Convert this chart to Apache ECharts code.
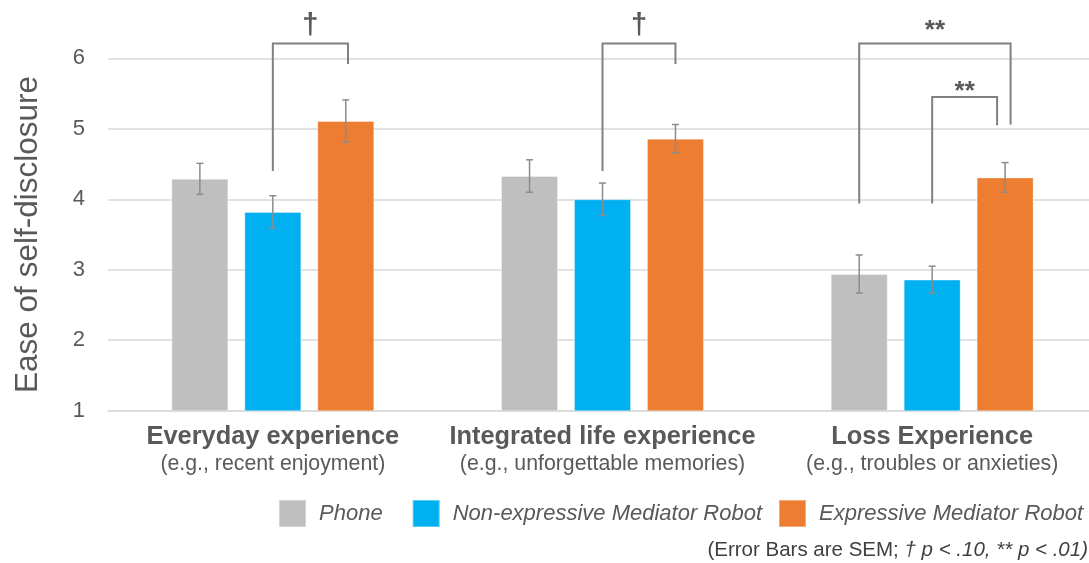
<!DOCTYPE html>
<html>
<head>
<meta charset="utf-8">
<script src="https://cdn.jsdelivr.net/npm/echarts@6/dist/echarts.min.js"></script>
<style>
  html, body { margin: 0; padding: 0; background: #ffffff; }
  #chart { width: 1089px; height: 563px; }
</style>
</head>
<body>
<div id="chart"></div>
<script>
// Conversation themes
const categories = ['Everyday experience', 'Integrated life experience', 'Loss Experience'];
const subtitles = ['(e.g., recent enjoyment)', '(e.g., unforgettable memories)', '(e.g., troubles or anxieties)'];
const seriesNames = ['Phone', 'Non-expressive Mediator Robot', 'Expressive Mediator Robot'];

// Mean ease of self-disclosure per condition
const phone = [4.29, 4.33, 2.94];
const nonExpressive = [3.82, 4.00, 2.86];
const expressive = [5.11, 4.86, 4.31];

// Standard errors of the mean
const phoneSem = [0.22, 0.23, 0.27];
const nonExpressiveSem = [0.23, 0.23, 0.19];
const expressiveSem = [0.30, 0.20, 0.21];

// Pairwise comparisons: theme, bar slots joined, bracket heights, marker and its height
const compCategory = [0, 1, 2, 2];
const compFrom = [1, 1, 0, 1];
const compTo = [2.03, 2, 2.075, 1.89];
const compTop = [6.21, 6.21, 6.21, 5.45];
const compLeftEnd = [4.40, 4.40, 3.94, 3.94];
const compRightEnd = [5.92, 5.92, 5.06, 5.05];
const compLabel = ['†', '†', '**', '**'];
const compLabelY = [6.49, 6.49, 6.48, 5.61];

const FONT = '"Liberation Sans", Arial, Helvetica, sans-serif';
const TEXT = '#595959';
const GRID = '#d9d9d9';
const ERR = '#8c8c8c';
const BRACKET = '#808080';
const COLORS = ['#bfbfbf', '#00b0f0', '#ed7d31'];
const BAR_W = 57;
const BAR_GAP = 0.28;
const SLOT = BAR_W * (1 + BAR_GAP);
const LEGEND_LEFT = [278, 411.7, 778];

const chart = echarts.init(document.getElementById('chart'));

function errorSeries(values, sems, slot) {
  return {
    type: 'custom',
    z: 5,
    silent: true,
    encode: { x: 0, y: [1, 2] },
    data: values.map((v, i) => [i, v - sems[i], v + sems[i]]),
    renderItem: function (params, api) {
      const c = api.value(0);
      const lo = api.coord([c, api.value(1)]);
      const hi = api.coord([c, api.value(2)]);
      const x = lo[0] + (slot - 1) * SLOT;
      const cap = 3.5;
      const st = { stroke: ERR, lineWidth: 1.5 };
      return {
        type: 'group',
        children: [
          { type: 'line', shape: { x1: x, y1: lo[1], x2: x, y2: hi[1] }, style: st },
          { type: 'line', shape: { x1: x - cap, y1: lo[1], x2: x + cap, y2: lo[1] }, style: st },
          { type: 'line', shape: { x1: x - cap, y1: hi[1], x2: x + cap, y2: hi[1] }, style: st }
        ]
      };
    }
  };
}

const bracketSeries = {
  type: 'custom',
  z: 6,
  silent: true,
  clip: false,
  encode: { x: 0, y: 1 },
  data: compCategory.map((c, i) => [c, compTop[i]]),
  renderItem: function (params, api) {
    const i = params.dataIndex;
    const c = compCategory[i];
    const top = api.coord([c, compTop[i]]);
    const leftEnd = api.coord([c, compLeftEnd[i]]);
    const rightEnd = api.coord([c, compRightEnd[i]]);
    const labelPt = api.coord([c, compLabelY[i]]);
    const x1 = top[0] + (compFrom[i] - 1) * SLOT;
    const x2 = top[0] + (compTo[i] - 1) * SLOT;
    const st = { stroke: BRACKET, lineWidth: 2, fill: null };
    const isDagger = compLabel[i] === '†';
    return {
      type: 'group',
      children: [
        {
          type: 'polyline',
          shape: { points: [[x1, leftEnd[1]], [x1, top[1]], [x2, top[1]], [x2, rightEnd[1]]] },
          style: st
        },
        {
          type: 'text',
          x: (x1 + x2) / 2,
          // asterisks sit high in the em box, daggers slightly high
          y: labelPt[1] + (isDagger ? 2.5 : 6),
          style: {
            text: compLabel[i],
            fill: TEXT,
            font: isDagger ? 'bold 29px ' + FONT : 'bold 26px ' + FONT,
            align: 'center',
            verticalAlign: 'middle'
          }
        }
      ]
    };
  }
};

const barData = [phone, nonExpressive, expressive];

chart.setOption({
  animation: false,
  backgroundColor: '#ffffff',
  textStyle: { fontFamily: FONT },
  grid: { left: 108, top: 58.3, width: 989, height: 352.4, containLabel: false, outerBoundsMode: 'none' },
  title: {
    text: '{a|(Error Bars are SEM; }{b|† p < .10, ** p < .01)}',
    right: 1,
    top: 540,
    padding: 0,
    textStyle: {
      fontWeight: 'normal',
      rich: {
        a: { fontFamily: FONT, fontSize: 20.5, fontWeight: 'normal', color: '#404040' },
        b: { fontFamily: FONT, fontSize: 20.5, fontWeight: 'normal', fontStyle: 'italic', color: '#404040' }
      }
    }
  },
  legend: seriesNames.map((name, k) => ({
    data: [name],
    left: LEGEND_LEFT[k],
    top: 499,
    padding: 0,
    icon: 'rect',
    itemWidth: 27,
    itemHeight: 27,
    selectedMode: false,
    textStyle: {
      fontFamily: FONT,
      fontSize: 22,
      fontStyle: 'italic',
      color: TEXT,
      padding: [0, 0, 0, 8]
    }
  })),
  xAxis: {
    type: 'category',
    data: categories,
    axisLine: { show: true, lineStyle: { color: GRID, width: 1.5 } },
    axisTick: { show: false },
    axisLabel: {
      margin: 13,
      interval: 0,
      formatter: function (value, idx) {
        return '{t|' + value + '}\n{s|' + subtitles[idx] + '}';
      },
      rich: {
        t: { fontFamily: FONT, fontSize: 25.4, fontWeight: 'bold', color: TEXT, lineHeight: 27 },
        s: { fontFamily: FONT, fontSize: 21.3, color: TEXT, lineHeight: 26 }
      }
    }
  },
  yAxis: {
    type: 'value',
    min: 1,
    max: 6,
    interval: 1,
    name: 'Ease of self-disclosure',
    nameLocation: 'middle',
    nameGap: 64,
    nameRotate: 90,
    nameTextStyle: { fontFamily: FONT, fontSize: 31.5, color: TEXT },
    axisLine: { show: false },
    axisTick: { show: false },
    axisLabel: { margin: 23, fontFamily: FONT, fontSize: 22, color: TEXT },
    splitLine: { lineStyle: { color: GRID, width: 1.5 } }
  },
  series: [
    ...seriesNames.map((name, k) => ({
      name: name,
      type: 'bar',
      data: barData[k],
      barWidth: BAR_W,
      barGap: (BAR_GAP * 100) + '%',
      itemStyle: { color: COLORS[k], borderColor: 'rgba(255,255,255,0.35)', borderWidth: 1 },
      z: 2
    })),
    errorSeries(phone, phoneSem, 0),
    errorSeries(nonExpressive, nonExpressiveSem, 1),
    errorSeries(expressive, expressiveSem, 2),
    bracketSeries
  ]
});
</script>
</body>
</html>
